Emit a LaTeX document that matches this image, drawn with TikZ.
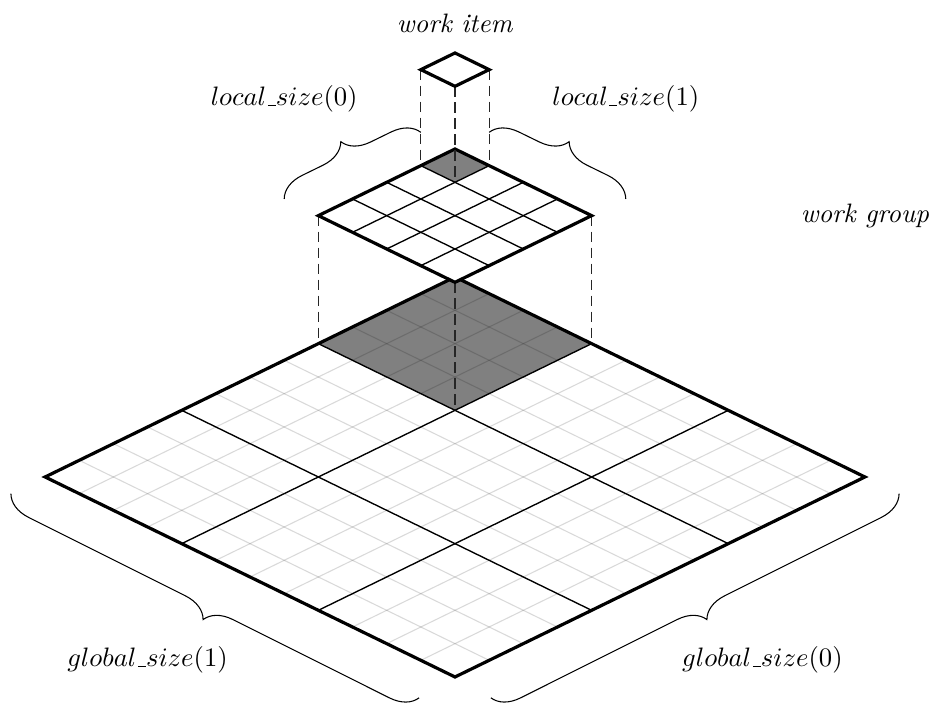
\documentclass[tikz,border=0pt]{standalone}
\usetikzlibrary{decorations.pathreplacing,positioning}
\newcommand\usc{\mbox{\kern.06em\vbox{\hrule width.3em}}}

\begin{document}
\begin{tikzpicture}[
  x={(12.81pt,6.25pt)}, y={(-12.81pt,6.25pt)}, z={(0pt,12pt)},
  font=\normalsize,
  rim/.style={line width=1.2pt, line join=miter},
  sub/.style={line width=0.5pt},
  fine/.style={line width=0.4pt, black, opacity=0.15},
  drop/.style={line width=0.4pt, black!85, dash pattern=on 4pt off 2pt},
  brc/.style={decorate, decoration={brace, amplitude=10pt}, line width=0.4pt}]
  \useasboundingbox (-170.625pt,-10.125pt) rectangle (179.25pt,253.875pt);

  \fill[black!50] (8,8) -- (12,8) -- (12,12) -- (8,12) -- cycle;
  \foreach \k in {0,...,12} {
    \draw[fine] (\k,0) -- (\k,12);
    \draw[fine] (0,\k) -- (12,\k);
  }
  \foreach \k in {4,8} {
    \draw[sub] (\k,0) -- (\k,12);
    \draw[sub] (0,\k) -- (12,\k);
  }
  \draw[rim] (0,0) -- (12,0) -- (12,12) -- (0,12) -- cycle;

  \coordinate (gb) at (8,8,0);
  \coordinate (gr) at (12,8,0);
  \coordinate (gl) at (8,12,0);
  \coordinate (wb) at (8,8,4);
  \coordinate (wr) at (12,8,4);
  \coordinate (wl) at (8,12,4);
  \draw[drop] (wl) -- (gl);
  \draw[drop] (wr) -- (gr);
  \draw[drop] (wb) -- (gb);

  \filldraw[fill=white, draw=none] (wb) -- (wr) -- (12,12,4) -- (wl) -- cycle;
  \fill[black!50] (11,11,4) -- (12,11,4) -- (12,12,4) -- (11,12,4) -- cycle;
  \foreach \k in {9,10,11} {
    \draw[sub] (\k,8,4) -- (\k,12,4);
    \draw[sub] (8,\k,4) -- (12,\k,4);
  }
  \draw[rim] (wb) -- (wr) -- (12,12,4) -- (wl) -- cycle;

  \coordinate (cb) at (11,11,4);
  \coordinate (cr) at (12,11,4);
  \coordinate (cl) at (11,12,4);
  \coordinate (ib) at (11,11,7);
  \coordinate (ir) at (12,11,7);
  \coordinate (il) at (11,12,7);
  \coordinate (itop) at (12,12,7);
  \draw[drop] (il) -- (cl);
  \draw[drop] (ir) -- (cr);
  \draw[drop] (ib) -- (cb);
  \filldraw[rim, fill=white] (ib) -- (ir) -- (itop) -- (il) -- cycle;

  \draw[brc] (8,13,4) -- (12,13,4);
  \draw[brc] (13,12,4) -- (13,8,4);
  \draw[brc] (-1.15,-0.1) -- (-1,12);
  \draw[brc] (12,-1) -- (-0.1,-1.15);

  \node[above=4pt of itop] (itemlbl) {\textit{work item}};
  \node (grouplbl) at (16,4,4) {\textit{work group}};
  \node (ls0) at (11,16,4) {$local\usc size(0)$};
  \node (ls1) at (16,11,4) {$local\usc size(1)$};
  \node (gs1) at (-4,5) {$global\usc size(1)$};
  \node (gs0) at (5,-4) {$global\usc size(0)$};
\end{tikzpicture}
\end{document}
